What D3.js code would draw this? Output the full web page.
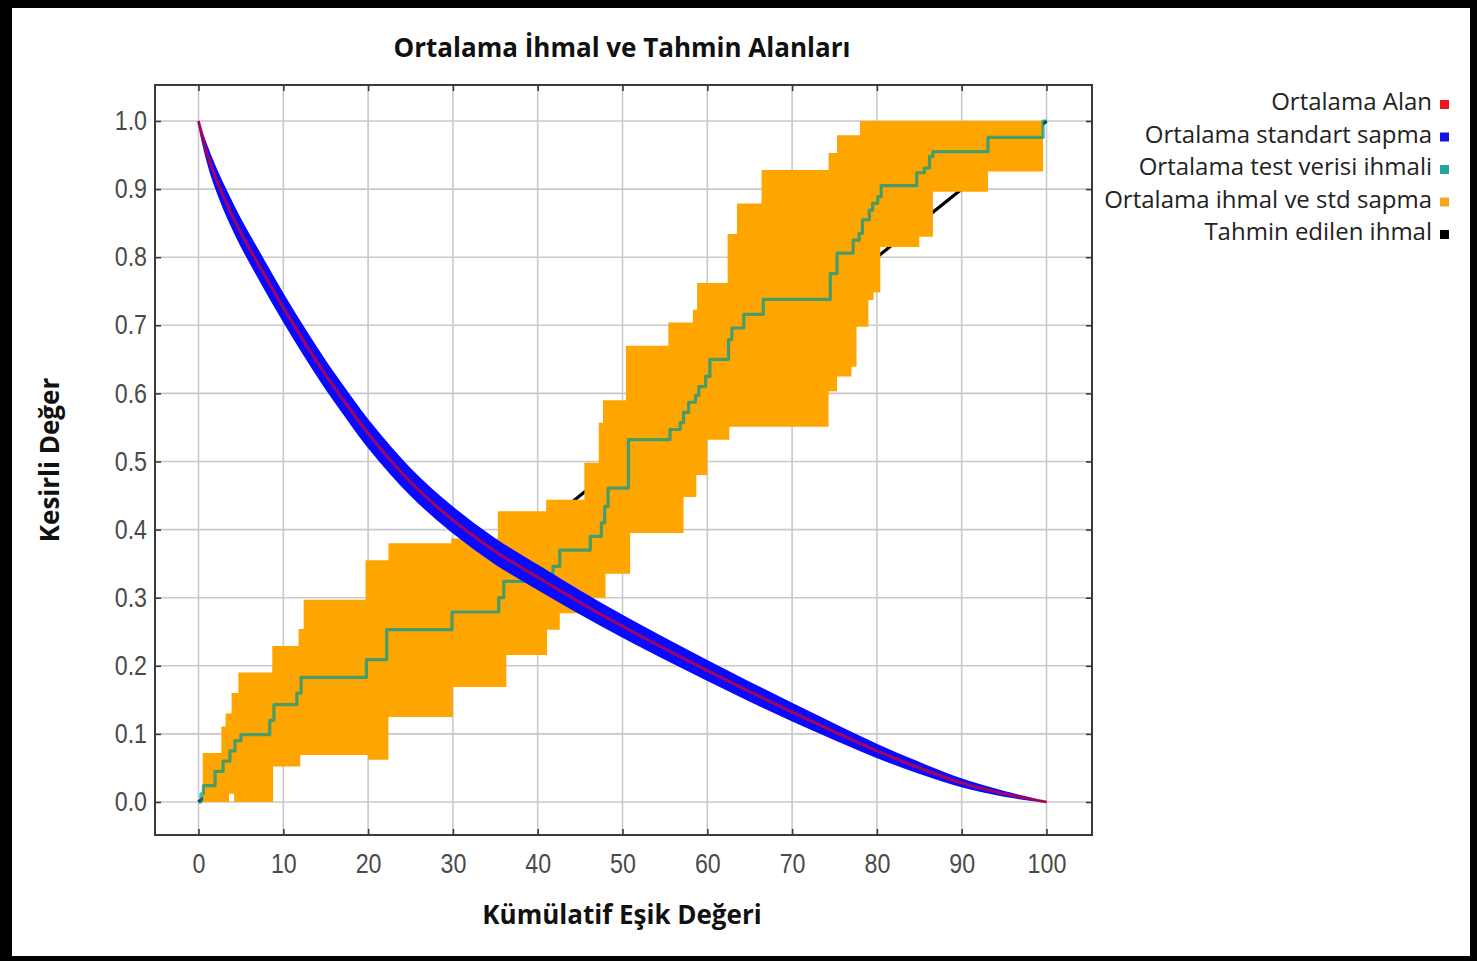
<!DOCTYPE html>
<html>
<head>
<meta charset="utf-8">
<script src="https://cdn.jsdelivr.net/npm/d3@7"></script>
<style>
  body { margin: 0; background: #000; }
  svg { display: block; }
</style>
</head>
<body>
<svg id="chart" width="1477" height="961"></svg>
<script>
// ---- Axis ticks ----
const xTicks = [0, 10, 20, 30, 40, 50, 60, 70, 80, 90, 100];
const yTicks = [0, 0.1, 0.2, 0.3, 0.4, 0.5, 0.6, 0.7, 0.8, 0.9, 1.0];

// ---- Mean fractional area and its standard deviation ----
const areaX    = [0, 0.5, 1, 1.5, 2.5, 3.5, 5, 7.5, 10, 12.5, 15, 17.5, 20, 25, 30, 35, 40, 45, 50, 55, 60, 65, 70, 75, 80, 85, 90, 95, 100];
const areaMean = [1.0, 0.974, 0.953, 0.934, 0.902, 0.874, 0.836, 0.78, 0.726, 0.675, 0.627, 0.583, 0.541, 0.47, 0.414, 0.368, 0.33, 0.293, 0.258, 0.225, 0.193, 0.162, 0.132, 0.103, 0.075, 0.05, 0.028, 0.012, 0.0];
const areaStd  = [0, 0.005, 0.009, 0.012, 0.015, 0.017, 0.018, 0.019, 0.019, 0.019, 0.019, 0.019, 0.019, 0.0185, 0.018, 0.0175, 0.017, 0.016, 0.0152, 0.0145, 0.0138, 0.013, 0.012, 0.0105, 0.009, 0.0072, 0.005, 0.0028, 0];

// ---- Mean test omission (step function, value holds until next x) ----
const testX = [0, 0.3, 0.57, 1.95, 2.9, 3.7, 4.3, 5.0, 8.4, 8.9, 11.6, 12.1, 19.8, 22.2, 29.9, 35.4, 36.0, 39.0, 41.8, 42.6, 46.2, 47.5, 47.9, 48.3, 50.7, 55.6, 56.8, 57.2, 57.8, 58.6, 59.0, 59.8, 60.3, 62.5, 62.9, 64.3, 66.6, 74.5, 75.3, 77.2, 77.9, 78.3, 79.1, 79.5, 80.1, 80.5, 84.7, 85.6, 86.2, 86.6, 93.1, 99.6, 100];
const testY = [0, 0.012, 0.024, 0.045, 0.06, 0.075, 0.09, 0.099, 0.12, 0.143, 0.16, 0.183, 0.209, 0.253, 0.279, 0.30, 0.324, 0.335, 0.346, 0.37, 0.39, 0.41, 0.434, 0.461, 0.532, 0.547, 0.557, 0.572, 0.587, 0.597, 0.61, 0.625, 0.65, 0.679, 0.696, 0.716, 0.738, 0.776, 0.806, 0.825, 0.835, 0.855, 0.869, 0.879, 0.889, 0.905, 0.924, 0.931, 0.948, 0.955, 0.976, 1.0, 1.0];

// ---- Omission mean ± std band: upper and lower step edges ----
const bandUpX = [0.5, 2.7, 3.2, 3.9, 4.7, 8.7, 11.8, 12.4, 19.7, 22.4, 29.8, 35.3, 41.0, 45.5, 47.2, 47.7, 50.4, 55.4, 58.3, 58.8, 62.4, 63.5, 66.4, 74.3, 75.3, 78.0, 99.6];
const bandUpY = [0.072, 0.111, 0.13, 0.16, 0.19, 0.229, 0.254, 0.297, 0.355, 0.38, 0.387, 0.427, 0.444, 0.498, 0.557, 0.59, 0.67, 0.704, 0.723, 0.762, 0.834, 0.879, 0.928, 0.953, 0.979, 1.0, 1.0];
const bandLoX = [0.5, 3.6, 4.2, 8.8, 12.0, 20.0, 22.4, 30.0, 36.3, 41.1, 42.6, 45.5, 48.0, 50.9, 57.2, 58.7, 60.0, 62.6, 74.3, 75.3, 77.0, 77.6, 79.0, 79.6, 80.4, 85.0, 86.6, 93.1, 99.6];
const bandLoY = [0, 0.012, 0, 0.052, 0.069, 0.062, 0.125, 0.169, 0.216, 0.253, 0.277, 0.30, 0.335, 0.395, 0.448, 0.48, 0.532, 0.551, 0.603, 0.625, 0.639, 0.698, 0.737, 0.748, 0.815, 0.83, 0.896, 0.926, 0.926];

// ---- Predicted omission ----
const predX = [0, 100];
const predY = [0, 1];

// ---- Legend ----
const legendLabels = ["Ortalama Alan", "Ortalama standart sapma", "Ortalama test verisi ihmali", "Ortalama ihmal ve std sapma", "Tahmin edilen ihmal"];
const legendColors = ["#f0141e", "#1414e6", "#22a59a", "#f7a51c", "#000000"];

const W = 1477, H = 961;
const svg = d3.select("#chart");

// page border
svg.append("rect").attr("width", W).attr("height", H).attr("fill", "#000");
svg.append("rect").attr("x", 12).attr("y", 8).attr("width", 1458).attr("height", 948).attr("fill", "#fff");

const frame = { left: 155, right: 1092, top: 85, bottom: 835 };
const x = d3.scaleLinear().domain([0, 100]).range([198.5, 1046.5]);
const y = d3.scaleLinear().domain([0, 1]).range([802, 121]);

// grid
const grid = svg.append("g").attr("stroke", "#c9c9c9").attr("stroke-width", 1.6);
grid.selectAll("line.gx").data(xTicks).join("line")
  .attr("x1", d => x(d)).attr("x2", d => x(d))
  .attr("y1", frame.top).attr("y2", frame.bottom);
grid.selectAll("line.gy").data(yTicks).join("line")
  .attr("y1", d => y(d)).attr("y2", d => y(d))
  .attr("x1", frame.left).attr("x2", frame.right);

// predicted omission line
const predRows = predX.map((v, i) => ({ x: v, y: predY[i] }));
svg.append("path").datum(predRows)
  .attr("fill", "none").attr("stroke", "#000").attr("stroke-width", 3.2)
  .attr("d", d3.line().x(d => x(d.x)).y(d => y(d.y)));

// omission band
function stepAt(xs, ys, v) {
  const i = d3.bisectRight(xs, v) - 1;
  return ys[Math.max(0, i)];
}
const bandX = Array.from(new Set([...bandUpX, ...bandLoX])).sort((a, b) => a - b);
const bandRows = bandX.map(v => ({ x: v, lo: stepAt(bandLoX, bandLoY, v), hi: stepAt(bandUpX, bandUpY, v) }));
svg.append("path").datum(bandRows)
  .attr("fill", "#ffa500")
  .attr("d", d3.area().curve(d3.curveStepAfter)
    .x(d => x(d.x)).y0(d => y(d.lo)).y1(d => y(d.hi)));

// mean test omission
const testRows = testX.map((v, i) => ({ x: v, y: testY[i] }));
svg.append("path").datum(testRows)
  .attr("fill", "none").attr("stroke", "#009893").attr("stroke-opacity", 0.72)
  .attr("stroke-width", 3.2).attr("stroke-linejoin", "round")
  .attr("d", d3.line().curve(d3.curveStepAfter).x(d => x(d.x)).y(d => y(d.y)));

// mean area ± std
const areaRows = areaX.map((v, i) => ({ x: v, m: areaMean[i], s: areaStd[i] }));
const smooth = d3.curveCatmullRom.alpha(0.5);
svg.append("path").datum(areaRows)
  .attr("fill", "#0a0aff").attr("stroke", "#0a0aff").attr("stroke-width", 2)
  .attr("d", d3.area().curve(smooth)
    .x(d => x(d.x)).y0(d => y(d.m - d.s)).y1(d => y(d.m + d.s)));
svg.append("path").datum(areaRows)
  .attr("fill", "none").attr("stroke", "#ff0000").attr("stroke-opacity", 0.62)
  .attr("stroke-width", 3)
  .attr("d", d3.line().curve(smooth).x(d => x(d.x)).y(d => y(d.m)));

// axes with inward ticks
const tickFont = "'Liberation Sans', 'DejaVu Sans', sans-serif";
function styleAxis(g) {
  g.select(".domain").remove();
  g.selectAll(".tick line").attr("stroke", "#3a3a3a").attr("stroke-width", 1.6);
  g.selectAll(".tick text").attr("fill", "#4a4a4a").style("font-family", tickFont).style("font-size", "27px");
}
// narrow the tick digits a little
function narrowLabels(g) {
  g.selectAll(".tick text").each(function () {
    const len = this.getComputedTextLength();
    if (len > 0) d3.select(this).attr("textLength", len * 0.86).attr("lengthAdjust", "spacingAndGlyphs");
  });
}
svg.append("g").attr("transform", `translate(0,${frame.bottom})`)
  .call(d3.axisBottom(x).tickValues(xTicks).tickSize(-6).tickSizeOuter(0).tickPadding(19).tickFormat(d3.format("d")))
  .call(styleAxis).call(narrowLabels);
svg.append("g").attr("transform", `translate(0,${frame.top})`)
  .call(d3.axisTop(x).tickValues(xTicks).tickSize(-6).tickSizeOuter(0).tickFormat(""))
  .call(styleAxis);
svg.append("g").attr("transform", `translate(${frame.left},0)`)
  .call(d3.axisLeft(y).tickValues(yTicks).tickSize(-6).tickSizeOuter(0).tickPadding(8).tickFormat(d3.format(".1f")))
  .call(styleAxis).call(narrowLabels);
svg.append("g").attr("transform", `translate(${frame.right},0)`)
  .call(d3.axisRight(y).tickValues(yTicks).tickSize(-6).tickSizeOuter(0).tickFormat(""))
  .call(styleAxis);

// plot frame
svg.append("rect")
  .attr("x", frame.left).attr("y", frame.top)
  .attr("width", frame.right - frame.left).attr("height", frame.bottom - frame.top)
  .attr("fill", "none").attr("stroke", "#3a3a3a").attr("stroke-width", 2);

// titles
const titleFont = "'Open Sans', sans-serif";
svg.append("text").attr("x", 622).attr("y", 57).attr("text-anchor", "middle")
  .style("font-family", titleFont).style("font-weight", 700).style("font-size", "26px").attr("fill", "#111")
  .text("Ortalama İhmal ve Tahmin Alanları");
svg.append("text").attr("x", 622).attr("y", 924).attr("text-anchor", "middle")
  .style("font-family", titleFont).style("font-weight", 700).style("font-size", "26px").attr("fill", "#111")
  .text("Kümülatif Eşik Değeri");
svg.append("text").attr("transform", "translate(59,460) rotate(-90)").attr("text-anchor", "middle")
  .style("font-family", titleFont).style("font-weight", 700).style("font-size", "26px").attr("fill", "#111")
  .text("Kesirli Değer");

// legend
const legend = svg.append("g");
const rowY = d3.scaleLinear().domain([0, 1]).range([110, 142.5]);
legendLabels.forEach((label, i) => {
  const by = rowY(i);
  legend.append("text").attr("x", 1432).attr("y", by).attr("text-anchor", "end")
    .style("font-family", titleFont).style("font-size", "24px").attr("fill", "#222")
    .text(label);
  legend.append("rect").attr("x", 1440).attr("y", by - 10).attr("width", 9).attr("height", 9)
    .attr("fill", legendColors[i]);
});
</script>
</body>
</html>
